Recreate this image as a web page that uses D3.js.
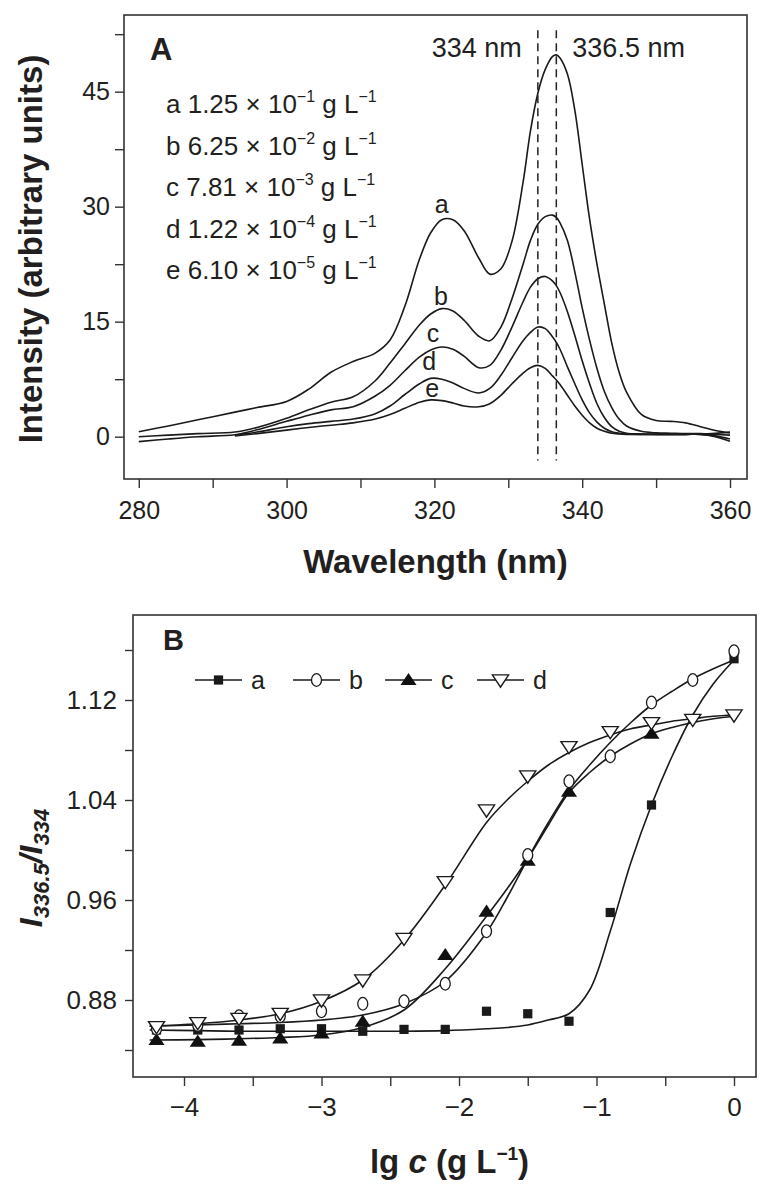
<!DOCTYPE html>
<html><head><meta charset="utf-8">
<script src="https://cdn.jsdelivr.net/npm/d3@7"></script>
<style>
body{margin:0;background:#fff}
svg{display:block}
</style>
</head><body>
<svg id="c" width="772" height="1195"></svg>
<script>
// ---------------- DATA : panel A ----------------
const wavelengths = [280,284,288,293,296,300,303,306,309,312,314,316,318,319.5,321,322.5,324,326,327.5,329,330.5,332,333,334,335,336,336.5,337,338,339,340,341,342,343,344,345,346,348,350,352,354,356,358,360];
const intensityA = [0.65,1.4,2.2,3.2,3.8,4.6,6.2,8.4,9.8,10.9,12.6,17.0,23.2,26.6,28.3,28.3,26.9,23.3,21.2,21.9,25.5,33.2,39.9,44.8,47.9,49.6,49.8,49.4,47.3,42.6,35.5,28.4,22.5,17.3,12.2,8.4,5.8,2.9,2.1,2.0,1.8,1.3,0.8,0.5];
const intensityB = [0.0,0.2,0.4,0.6,1.2,2.4,3.5,4.5,5.2,7.3,9.6,12.1,14.6,16.0,16.7,16.4,15.2,13.1,12.5,14.3,18.0,22.5,25.6,27.7,28.7,28.9,28.6,27.9,25.6,21.5,16.8,12.6,8.9,5.9,3.8,2.3,1.4,0.7,0.5,0.45,0.4,0.4,0.3,0.2];
const intensityC = [-0.65,-0.3,0.0,0.25,0.9,2.0,2.8,3.5,3.9,5.3,6.7,8.6,10.4,11.3,11.7,11.4,10.5,9.0,9.3,11.3,14.3,17.6,19.5,20.6,20.9,20.3,19.7,18.8,16.3,13.2,9.9,6.9,4.3,2.5,1.3,0.7,0.45,0.35,0.3,0.3,0.3,0.3,0.1,-0.3];
const intensityD = [null,null,null,0.2,0.6,1.3,1.7,2.0,2.3,3.0,4.0,5.5,6.9,7.6,7.5,7.0,6.3,5.7,6.3,8.0,10.3,12.5,13.6,14.3,14.1,13.0,12.3,11.4,9.1,6.9,4.8,3.1,1.9,1.1,0.65,0.45,0.35,0.3,0.3,0.3,0.3,0.3,0.0,-0.6];
const intensityE = [null,null,null,0.1,0.4,0.85,1.2,1.5,1.8,2.3,2.9,3.7,4.5,4.8,4.7,4.4,4.0,3.9,4.3,5.4,6.9,8.3,9.0,9.3,8.9,7.9,7.4,6.8,5.4,4.0,2.8,1.8,1.1,0.7,0.45,0.35,0.3,0.3,0.3,0.3,0.3,0.35,0.45,0.6];
const curveLetters = ["a","b","c","d","e"];
const curveLabelPos = [[321.0,29.2],[320.9,17.2],[319.8,12.3],[319.3,8.7],[319.7,5.2]];
const legendMantissa = ["1.25","6.25","7.81","1.22","6.10"];
const legendExponent = ["\u22121","\u22122","\u22123","\u22124","\u22125"];
const markLines = [334, 336.5];
const markLabels = ["334 nm","336.5 nm"];
const xTicksA = [280,300,320,340,360];
const xMinorA = [290,310,330,350];
const yTicksA = [0,15,30,45];
const yMinorA = [7.5,22.5,37.5,52.5];

// ---------------- DATA : panel B ----------------
const lgC = [-4.2,-3.9,-3.6,-3.3,-3.0,-2.7,-2.4,-2.1,-1.8,-1.5,-1.2,-0.9,-0.6,-0.3,0];
const ratioA = [0.856,0.856,0.856,0.857,0.857,0.855,0.8565,0.8565,0.871,0.869,0.863,0.950,1.036,null,1.153];
const ratioB = [0.857,0.860,0.867,0.867,0.871,0.877,0.879,0.893,0.935,0.996,1.055,1.075,1.118,1.136,1.159];
const ratioC = [0.848,0.8467,0.8475,0.8493,0.8533,0.8627,null,0.916,0.9507,0.9914,1.0467,null,1.093,null,null];
const ratioD = [0.8587,0.8619,0.8653,0.8693,0.880,0.896,0.9293,0.9747,1.032,1.0592,1.0827,1.0947,1.1019,1.1045,1.108];
const fitGrid = [-4.25,-3.9,-3.6,-3.3,-3.0,-2.7,-2.4,-2.1,-1.8,-1.65,-1.5,-1.35,-1.2,-1.05,-0.9,-0.75,-0.6,-0.45,-0.3,-0.15,0];
const fitA = [0.856,0.8555,0.855,0.855,0.855,0.855,0.855,0.8555,0.857,0.858,0.86,0.864,0.869,0.888,0.935,0.99,1.036,1.075,1.108,1.133,1.152];
const fitB = [0.859,0.86,0.861,0.862,0.864,0.868,0.877,0.895,0.934,0.962,0.993,1.022,1.048,1.068,1.086,1.102,1.116,1.127,1.137,1.145,1.152];
const fitC = [0.848,0.8483,0.849,0.85,0.852,0.858,0.872,0.905,0.947,0.969,0.993,1.02,1.046,1.062,1.075,1.085,1.093,1.098,1.102,1.105,1.107];
const fitD = [0.859,0.861,0.864,0.869,0.879,0.896,0.928,0.972,1.022,1.04,1.055,1.068,1.078,1.086,1.092,1.097,1.1,1.103,1.105,1.107,1.108];
const seriesNamesB = ["a","b","c","d"];
const xTicksB = [-4,-3,-2,-1,0];
const xMinorB = [-3.5,-2.5,-1.5,-0.5];
const yTicksB = [0.88,0.96,1.04,1.12];
const yMinorB = [0.84,0.92,1.00,1.08,1.16];

// ---------------- DRAW ----------------
const FONT = '"Liberation Sans", Arial, Helvetica, sans-serif';
const INK = '#231f20';
const svg = d3.select('#c');
svg.append('rect').attr('width',772).attr('height',1195).attr('fill','#fff');

function styleAxis(g, fs){
  g.attr('font-family', FONT).attr('font-size', fs);
  g.select('.domain').remove();
  g.selectAll('.tick line').attr('stroke', '#333').attr('stroke-width', 1.4);
  g.selectAll('.tick text').attr('fill', INK);
}

// ===== Panel A =====
const A = {l:124, r:747, t:15, b:479};
const xA = d3.scaleLinear().domain([278.0, 362.3]).range([A.l, A.r]);
const yA = d3.scaleLinear().domain([-5.52, 55.0]).range([A.b, A.t]);
const gA = svg.append('g');

gA.append('g').attr('transform',`translate(0,${A.b})`)
  .call(d3.axisBottom(xA).tickValues(xTicksA).tickSize(9).tickPadding(13).tickFormat(d3.format('d')))
  .call(g=>styleAxis(g,25));
gA.append('g').attr('transform',`translate(0,${A.b})`)
  .call(d3.axisBottom(xA).tickValues(xMinorA).tickSize(9).tickFormat(''))
  .call(g=>styleAxis(g,25));
gA.append('g').attr('transform',`translate(${A.l},0)`)
  .call(d3.axisLeft(yA).tickValues(yTicksA).tickSize(9).tickPadding(5).tickFormat(d3.format('d')))
  .call(g=>styleAxis(g,25));
gA.append('g').attr('transform',`translate(${A.l},0)`)
  .call(d3.axisLeft(yA).tickValues(yMinorA).tickSize(9).tickFormat(''))
  .call(g=>styleAxis(g,25));

const seriesA = [intensityA,intensityB,intensityC,intensityD,intensityE];
const lineA = d3.line().defined(d=>d[1]!=null).x(d=>xA(d[0])).y(d=>yA(d[1])).curve(d3.curveCatmullRom.alpha(0.5));
gA.selectAll('path.spec').data(seriesA).join('path').attr('class','spec')
  .attr('d', s=>lineA(wavelengths.map((w,i)=>[w,s[i]])))
  .attr('fill','none').attr('stroke','#1a1a1a').attr('stroke-width',1.6);

// dashed marker lines
gA.selectAll('line.mark').data(markLines).join('line').attr('class','mark')
  .attr('x1',d=>xA(d)).attr('x2',d=>xA(d)).attr('y1',yA(53)).attr('y2',yA(-3.1))
  .attr('stroke','#222').attr('stroke-width',1.5).attr('stroke-dasharray','8,5');
gA.append('text').attr('x',xA(markLines[0])-16).attr('y',yA(49.5)).attr('text-anchor','end')
  .attr('font-family',FONT).attr('font-size',27).attr('fill',INK).text(markLabels[0]);
gA.append('text').attr('x',xA(markLines[1])+16).attr('y',yA(49.5)).attr('text-anchor','start')
  .attr('font-family',FONT).attr('font-size',27).attr('fill',INK).text(markLabels[1]);

// curve letters
gA.selectAll('text.cl').data(curveLetters).join('text').attr('class','cl')
  .attr('x',(d,i)=>xA(curveLabelPos[i][0])).attr('y',(d,i)=>yA(curveLabelPos[i][1]))
  .attr('text-anchor','middle').attr('font-family',FONT).attr('font-size',25).attr('fill',INK).text(d=>d);

// frame
gA.append('rect').attr('x',A.l).attr('y',A.t).attr('width',A.r-A.l).attr('height',A.b-A.t)
  .attr('fill','none').attr('stroke','#333').attr('stroke-width',1.6);

// panel letter
gA.append('text').attr('x',150).attr('y',60).attr('font-family',FONT).attr('font-weight','bold')
  .attr('font-size',31).attr('fill',INK).text('A');

// legend lines
curveLetters.forEach((L,i)=>{
  const t = gA.append('text').attr('x',166).attr('y',113+i*41.5)
    .attr('font-family',FONT).attr('font-size',26).attr('fill',INK);
  t.append('tspan').text(`${L} ${legendMantissa[i]} \u00d7 10`);
  t.append('tspan').attr('font-size',16).attr('dy',-11).text(legendExponent[i]);
  t.append('tspan').attr('dy',11).text(' g L');
  t.append('tspan').attr('font-size',16).attr('dy',-11).text('\u22121');
});

// axis titles A
gA.append('text').attr('x',(A.l+A.r)/2).attr('y',573).attr('text-anchor','middle')
  .attr('font-family',FONT).attr('font-weight','bold').attr('font-size',33).attr('fill',INK)
  .text('Wavelength (nm)');
gA.append('text').attr('transform',`translate(42,${(A.t+A.b)/2+2}) rotate(-90)`).attr('text-anchor','middle')
  .attr('font-family',FONT).attr('font-weight','bold').attr('font-size',33).attr('fill',INK)
  .text('Intensity (arbitrary units)');

// ===== Panel B =====
const B = {l:133, r:756, t:615, b:1077};
const xB = d3.scaleLinear().domain([-4.371, 0.160]).range([B.l, B.r]);
const yB = d3.scaleLinear().domain([0.8184, 1.188]).range([B.b, B.t]);
const gB = svg.append('g');

gB.append('g').attr('transform',`translate(0,${B.b})`)
  .call(d3.axisBottom(xB).tickValues(xTicksB).tickSize(9).tickPadding(12).tickFormat(d3.format('d')))
  .call(g=>styleAxis(g,26));
gB.append('g').attr('transform',`translate(0,${B.b})`)
  .call(d3.axisBottom(xB).tickValues(xMinorB).tickSize(9).tickFormat(''))
  .call(g=>styleAxis(g,26));
gB.append('g').attr('transform',`translate(${B.l},0)`)
  .call(d3.axisLeft(yB).tickValues(yTicksB).tickSize(8).tickPadding(8).tickFormat(d3.format('.2f')))
  .call(g=>styleAxis(g,26));
gB.append('g').attr('transform',`translate(${B.l},0)`)
  .call(d3.axisLeft(yB).tickValues(yMinorB).tickSize(8).tickFormat(''))
  .call(g=>styleAxis(g,26));

const fits = [fitA,fitB,fitC,fitD];
const lineB = d3.line().x(d=>xB(d[0])).y(d=>yB(d[1])).curve(d3.curveCatmullRom.alpha(0.5));
gB.selectAll('path.fit').data(fits).join('path').attr('class','fit')
  .attr('d', f=>lineB(fitGrid.map((x,i)=>[x,f[i]])))
  .attr('fill','none').attr('stroke','#1a1a1a').attr('stroke-width',1.6);

// marker symbols
const sq = d3.symbol().type(d3.symbolSquare).size(85)();
const tri = d3.symbol().type(d3.symbolTriangle).size(85)();
function drawMarker(g, kind){
  if(kind==='a') g.append('path').attr('d',sq).attr('fill','#1a1a1a');
  if(kind==='b') g.append('ellipse').attr('rx',5).attr('ry',6.3).attr('fill','#fff').attr('stroke','#1a1a1a').attr('stroke-width',1.3);
  if(kind==='c') g.append('path').attr('d',tri).attr('transform','translate(0,1) scale(1.15,1)').attr('fill','#111');
  if(kind==='d') g.append('path').attr('d',tri).attr('transform','translate(0,-1) scale(1.15,-1)').attr('fill','#fff').attr('stroke','#1a1a1a').attr('stroke-width',1.3);
}
const ratios = {a:ratioA,b:ratioB,c:ratioC,d:ratioD};
['a','c','b','d'].forEach(k=>{
  lgC.forEach((x,i)=>{
    const v = ratios[k][i];
    if(v==null) return;
    const g = gB.append('g').attr('transform',`translate(${xB(x)},${yB(v)})`);
    drawMarker(g,k);
  });
});

// frame
gB.append('rect').attr('x',B.l).attr('y',B.t).attr('width',B.r-B.l).attr('height',B.b-B.t)
  .attr('fill','none').attr('stroke','#333').attr('stroke-width',1.6);

gB.append('text').attr('x',163).attr('y',650).attr('font-family',FONT).attr('font-weight','bold')
  .attr('font-size',29).attr('fill',INK).text('B');

// legend B
const legX = [195,293,385,477];
seriesNamesB.forEach((k,i)=>{
  const g = gB.append('g').attr('transform',`translate(${legX[i]},680)`);
  g.append('line').attr('x1',0).attr('x2',47).attr('y1',0).attr('y2',0).attr('stroke','#1a1a1a').attr('stroke-width',1.6);
  const m = g.append('g').attr('transform','translate(23.5,0)');
  drawMarker(m,k);
  g.append('text').attr('x',56).attr('y',9).attr('font-family',FONT).attr('font-size',25).attr('fill',INK).text(k);
});

// axis titles B
const xt = gB.append('text').attr('x',(B.l+B.r)/2+5).attr('y',1173).attr('text-anchor','middle')
  .attr('font-family',FONT).attr('font-weight','bold').attr('font-size',33).attr('fill',INK);
xt.append('tspan').text('lg ');
xt.append('tspan').attr('font-style','italic').text('c');
xt.append('tspan').text(' (g L');
xt.append('tspan').attr('font-size',19).attr('dy',-13).text('\u22121');
xt.append('tspan').attr('dy',13).text(')');

const yt = gB.append('text').attr('transform',`translate(42,868) rotate(-90)`).attr('text-anchor','middle')
  .attr('font-family',FONT).attr('font-weight','bold').attr('font-style','italic').attr('fill',INK);
yt.append('tspan').attr('font-size',32).text('I');
yt.append('tspan').attr('font-size',22).attr('dy',7).text('336.5');
yt.append('tspan').attr('font-size',32).attr('dy',-7).text('/I');
yt.append('tspan').attr('font-size',22).attr('dy',7).text('334');
</script>
</body></html>
